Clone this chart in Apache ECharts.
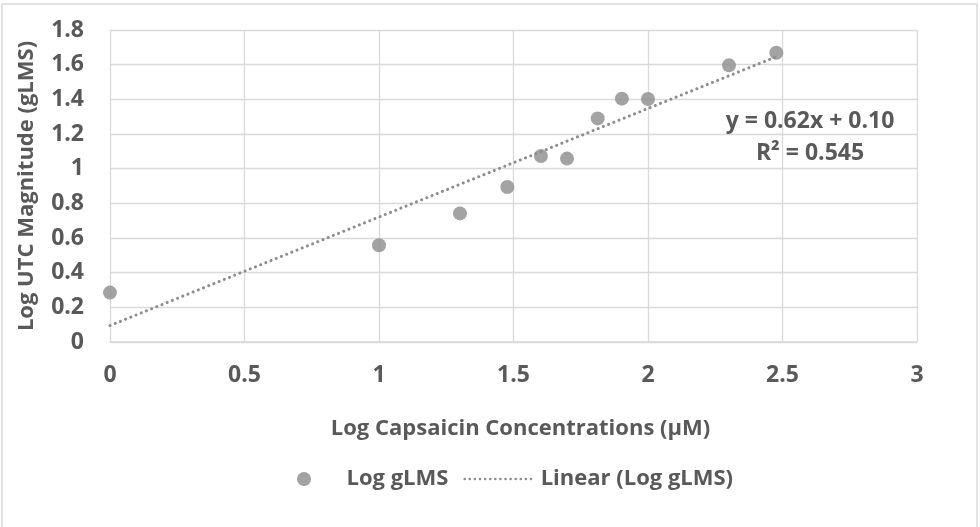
<!DOCTYPE html>
<html>
<head>
<meta charset="utf-8">
<script src="https://cdn.jsdelivr.net/npm/echarts@6/dist/echarts.min.js"></script>
<style>
html,body{margin:0;padding:0;background:#fff;}
#chart{width:980px;height:527px;}
</style>
</head>
<body>
<div id="chart"></div>
<script>
// Data
var logConc = [0, 1, 1.301, 1.477, 1.602, 1.699, 1.813, 1.903, 2, 2.301, 2.477];
var logGLMS = [0.285, 0.558, 0.742, 0.894, 1.073, 1.058, 1.290, 1.404, 1.402, 1.596, 1.669];
var trendX = [0, 2.477];
var trendY = [0.095, 1.646];
var xTicks = [0, 0.5, 1, 1.5, 2, 2.5, 3];
var yTicks = [0, 0.2, 0.4, 0.6, 0.8, 1, 1.2, 1.4, 1.6, 1.8];
var eqText = 'y = 0.62x + 0.10';
var r2Text = 'R² = 0.545';

var FONT = '"Open Sans"';
var TXT = '#595959';
var GRID = '#d9d9d9';
var MARK = '#8c8c8c';

var chart = echarts.init(document.getElementById('chart'), null, {renderer: 'canvas'});
var scatterData = logConc.map(function (x, i) { return [x, logGLMS[i]]; });
var trendData = trendX.map(function (x, i) { return [x, trendY[i]]; });

chart.setOption({
  animation: false,
  backgroundColor: '#fff',
  textStyle: {fontFamily: FONT},
  grid: {left: 110, right: 63, top: 30, bottom: 185, containLabel: false},
  xAxis: {
    type: 'value', min: xTicks[0], max: xTicks[xTicks.length - 1], interval: 0.5,
    name: 'Log Capsaicin Concentrations (µM)', nameLocation: 'middle', nameGap: 76,
    nameTextStyle: {color: TXT, fontSize: 22, fontWeight: 'bold', fontFamily: FONT, padding: [0, 0, 0, 14]},
    axisLine: {show: true, lineStyle: {color: GRID, width: 1.5}},
    axisTick: {show: false},
    axisLabel: {color: TXT, fontSize: 23, fontWeight: 'bold', margin: 22, fontFamily: FONT},
    splitLine: {show: true, lineStyle: {color: GRID, width: 1.3}}
  },
  yAxis: {
    type: 'value', min: yTicks[0], max: yTicks[yTicks.length - 1], interval: 0.2,
    name: 'Log UTC Magnitude (gLMS)', nameLocation: 'middle', nameGap: 72,
    nameTextStyle: {color: TXT, fontSize: 22, fontWeight: 'bold', fontFamily: FONT},
    axisLine: {show: false},
    axisTick: {show: false},
    axisLabel: {color: TXT, fontSize: 23, fontWeight: 'bold', margin: 26, fontFamily: FONT},
    splitLine: {show: true, lineStyle: {color: GRID, width: 1.3}}
  },
  legend: {
    top: 463, left: 292,
    itemWidth: 67, itemHeight: 14, itemGap: 15,
    textStyle: {color: TXT, fontSize: 22, fontWeight: 'bold', fontFamily: FONT, padding: [0, 0, 0, 4]},
    data: [
      {name: 'Log gLMS', icon: 'circle'},
      {name: 'Linear (Log gLMS)', itemStyle: {opacity: 0}, lineStyle: {color: MARK, width: 2.5, type: [0.1, 5], cap: 'round'}}
    ]
  },
  series: [
    {
      name: 'Log gLMS', type: 'scatter', data: scatterData,
      symbol: 'circle', symbolSize: 14,
      itemStyle: {color: MARK}, z: 3
    },
    {
      name: 'Linear (Log gLMS)', type: 'line', data: trendData,
      symbol: 'none', silent: true,
      lineStyle: {color: MARK, width: 3, type: [0.1, 5.5], cap: 'round'},
      itemStyle: {color: MARK}, z: 2
    }
  ],
  graphic: [
    {type: 'rect', shape: {x: 2, y: 4, width: 975, height: 540}, style: {fill: 'none', stroke: GRID, lineWidth: 1.5}, silent: true, z: -10},
    {type: 'text', x: 810, y: 121, style: {text: eqText, fill: TXT, font: 'bold 23px ' + FONT, textAlign: 'center', textVerticalAlign: 'middle'}, z: 10},
    {type: 'text', x: 810, y: 153, style: {text: r2Text, fill: TXT, font: 'bold 23px ' + FONT, textAlign: 'center', textVerticalAlign: 'middle'}, z: 10}
  ]
});
</script>
</body>
</html>
